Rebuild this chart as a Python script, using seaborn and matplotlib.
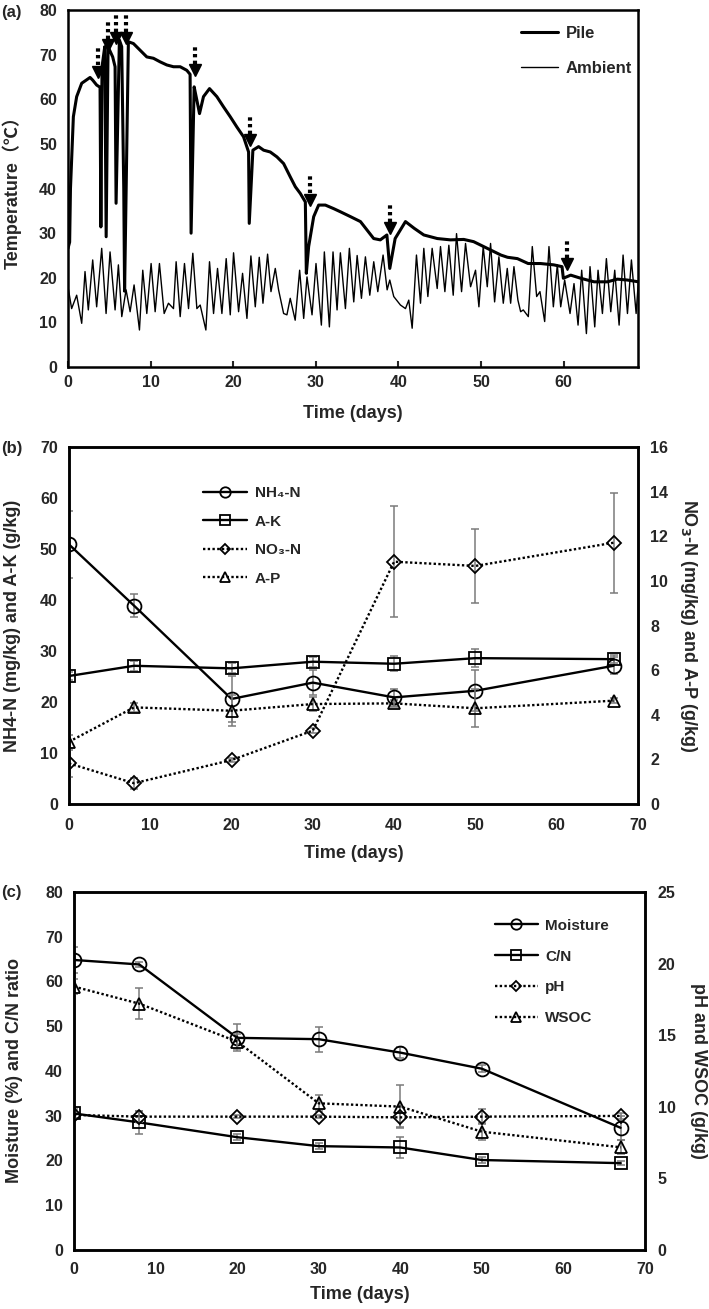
import numpy as np
import pandas as pd
import seaborn as sns
import matplotlib
matplotlib.use('Agg')
import matplotlib.pyplot as plt

# Panel (a): pile and ambient temperature
pile_day = [0.0, 0.2, 0.3, 0.65, 1.05, 1.66, 2.67, 2.99, 3.47, 3.88, 3.98, 4.12, 4.45, 4.62, 4.85,
            5.41, 5.70, 5.82, 6.22, 6.5, 6.75, 6.85, 7.0, 7.31, 7.92, 8.73, 9.54, 10.34, 11.15,
            11.96, 12.77, 13.58, 14.38, 14.78, 14.9, 15.27, 15.6, 15.92, 16.4, 17.13, 18.02,
            18.83, 19.64, 20.44, 21.25, 21.86, 21.94, 22.38, 23.07, 23.68, 24.48, 25.29, 26.1,
            26.91, 27.52, 28.12, 28.73, 28.85, 29.13, 29.74, 30.34, 31.15, 32.16, 32.97, 34.2,
            35.4, 36.2, 37.0, 37.8, 38.6, 38.95, 39.6, 40.85, 41.9, 43.07, 44.7, 46.3, 47.9,
            49.1, 50.75, 52.4, 53.2, 54.4, 55.7, 57.2, 58.8, 59.8, 59.96, 60.85, 62.06, 63.68,
            65.3, 66.5, 67.7, 69.05]
pile_temp = [26.6, 28.0, 40.0, 56.1, 60.6, 63.6, 64.9, 64.3, 63.2, 62.7, 31.4, 67.3, 71.8, 29.2, 71.8,
             69.5, 67.3, 36.7, 73.3, 71.8, 40.0, 17.0, 35.0, 72.9, 72.5, 71.0, 69.5, 69.2, 68.4,
             67.7, 67.3, 67.3, 66.5, 65.6, 30.0, 62.8, 59.8, 56.8, 60.6, 62.4, 60.6,
             58.3, 56.1, 53.8, 51.6, 48.2, 32.2, 48.6, 49.4, 48.6, 48.2, 47.1, 45.6,
             42.6, 40.4, 38.9, 37.0, 21.0, 27.0, 33.7, 36.3, 36.3, 35.5, 34.8, 33.7,
             32.6, 30.7, 28.8, 28.5, 29.6, 22.1, 28.8, 32.6, 31.1, 29.6, 28.8, 28.5, 28.6,
             28.1, 26.6, 25.1, 24.6, 24.3, 23.2, 23.2, 22.9, 22.5, 19.9, 20.6, 19.9, 19.1,
             19.1, 19.7, 19.5, 19.1]

amb_day = [0.0, 0.44, 1.05, 1.66, 2.06, 2.46, 2.99, 3.47, 4.08, 4.61, 5.09, 5.70, 6.10, 6.51, 7.03,
           7.52, 8.00, 8.65, 9.05, 9.54, 10.06, 10.55, 11.07, 11.64, 12.16, 12.77, 13.09, 13.58,
           14.10, 14.59, 15.11, 15.60, 16.0, 16.69, 17.13, 17.62, 18.10, 18.63, 19.15, 19.64,
           20.04, 20.65, 21.13, 21.66, 22.14, 22.67, 23.15, 23.60, 24.16, 24.57, 25.09, 25.49,
           26.1, 26.5, 26.9, 27.5, 28.04, 28.53, 28.93, 29.54, 30.02, 30.67, 31.03, 31.64, 32.08,
           32.57, 32.97, 33.58, 34.06, 34.59, 35.0, 35.52, 36.0, 36.53, 37.01, 37.5, 38.14,
           38.63, 38.95, 39.43, 40.24, 40.85, 41.25, 41.66, 42.18, 42.67, 43.07, 43.56, 44.08,
           44.69, 45.09, 45.62, 46.1, 46.63, 47.03, 47.64, 48.12, 48.73, 49.33, 49.74, 50.26,
           50.75, 51.15, 51.64, 52.16, 52.69, 53.17, 53.58, 53.98, 54.46, 54.79, 55.11, 55.72,
           56.2, 56.73, 57.13, 57.7, 58.22, 58.75, 59.23, 59.64, 60.12, 60.77, 61.25, 61.74,
           62.18, 62.75, 63.19, 63.76, 64.16, 64.69, 65.17, 65.7, 66.18, 66.71, 67.19, 67.72,
           68.2, 68.77, 69.05]
amb_temp = [18.0, 13.1, 16.1, 9.8, 21.4, 12.8, 24.0, 13.5, 26.6, 12.0, 25.8, 12.8, 22.9, 11.3, 17.3,
            12.4, 18.4, 8.3, 21.7, 12.0, 23.2, 12.4, 23.2, 12.0, 14.3, 13.1, 23.6, 11.3,
            23.2, 13.1, 25.5, 13.1, 13.9, 8.3, 23.6, 12.0, 22.1, 12.0, 24.3, 11.7,
            25.6, 12.4, 21.0, 10.9, 24.9, 13.5, 24.6, 14.3, 25.3, 16.9, 22.1, 17.3,
            12.0, 11.7, 15.4, 10.5, 21.7, 10.9, 20.2, 11.7, 23.2, 9.4, 25.8, 9.0, 25.8,
            12.8, 25.6, 13.1, 26.6, 14.6, 25.0, 15.4, 24.7, 16.1, 23.6, 16.9, 25.1,
            17.3, 19.5, 15.8, 13.9, 13.1, 15.0, 8.7, 25.1, 14.3, 26.6, 15.8, 26.6,
            17.6, 27.0, 16.9, 27.3, 16.1, 29.9, 16.9, 27.7, 18.0, 21.7, 13.5, 27.0,
            18.0, 27.7, 14.6, 24.7, 14.3, 22.1, 14.3, 22.5, 15.0, 12.4, 12.8, 11.3,
            27.0, 15.8, 16.9, 10.2, 27.0, 13.5, 22.9, 13.5, 19.5, 12.0, 18.7, 9.4,
            21.7, 7.5, 22.5, 9.0, 21.7, 12.0, 24.3, 12.4, 21.7, 9.4, 25.1, 12.0,
            24.0, 12.0, 19.5]

# turning events (dotted arrows): day and temperature at the arrow tip
turn_day = [3.68, 4.89, 5.82, 7.03, 15.4, 22.06, 29.33, 39.0, 60.36]
turn_tip = [65.0, 71.0, 72.5, 72.5, 65.4, 49.7, 36.3, 29.9, 21.9]

# Panels (b) and (c): sampling days
days = [0, 8, 20, 30, 40, 50, 67]

nh4 = [50.9, 38.9, 20.6, 23.8, 20.9, 22.2, 27.1]
nh4_err = [6.5, 2.3, 4.5, 2.5, 1.6, 4.0, 1.7]
ak = [25.1, 27.1, 26.6, 27.9, 27.5, 28.6, 28.4]
ak_err = [0.8, 1.0, 1.0, 1.0, 1.5, 1.8, 0.8]
no3 = [1.82, 0.93, 1.97, 3.29, 10.86, 10.67, 11.71]
no3_err = [0.6, 0.25, 0.1, 0.1, 2.5, 1.65, 2.25]
ap = [2.79, 4.33, 4.18, 4.48, 4.51, 4.29, 4.63]
ap_err = [0.3, 0.2, 0.7, 0.3, 0.15, 0.85, 0.1]

moist = [64.8, 63.8, 47.4, 47.1, 44.1, 40.5, 27.3]
moist_err = [3.0, 0.5, 3.0, 2.8, 1.2, 0.8, 2.7]
cn = [30.5, 28.5, 25.2, 23.2, 22.9, 20.1, 19.4]
cn_err = [1.0, 2.6, 0.7, 0.6, 2.4, 0.6, 0.5]
ph = [9.43, 9.31, 9.31, 9.31, 9.26, 9.31, 9.36]
ph_err = [0.2, 0.4, 0.1, 0.1, 0.7, 0.5, 0.2]
wsoc = [18.39, 17.2, 14.55, 10.24, 10.01, 8.26, 7.17]
wsoc_err = [0.5, 1.1, 0.5, 0.55, 1.5, 0.6, 0.5]

# Style
sns.set_style('ticks')
plt.rcParams['font.family'] = ['Liberation Sans', 'Noto Sans CJK SC', 'DejaVu Sans']
plt.rcParams['font.weight'] = 'bold'
plt.rcParams['axes.labelweight'] = 'bold'
plt.rcParams['axes.linewidth'] = 1.8
plt.rcParams['axes.edgecolor'] = 'black'

TICK_FS = 11.5
LABEL_FS = 13
DOT = (0, (1, 1))
GREY = '#7a7a7a'

fig = plt.figure(figsize=(7.09, 13.09), dpi=100)


def style_axis(ax):
    for s in ax.spines.values():
        s.set_linewidth(1.8)
        s.set_color('black')
    for lab in ax.get_xticklabels() + ax.get_yticklabels():
        lab.set_fontweight('bold')
        lab.set_fontsize(TICK_FS)


def series(ax, y, err, marker, ls, label, ms):
    sns.lineplot(x=days, y=y, ax=ax, color='black', lw=1.7, linestyle=ls, marker=marker,
                 markersize=ms, markerfacecolor='none', markeredgecolor='black',
                 markeredgewidth=1.3, label=label, legend=False, estimator=None, sort=False)
    ax.errorbar(days, y, yerr=err, fmt='none', ecolor=GREY, elinewidth=1.1, capsize=3.2,
                capthick=1.1, zorder=1)


# ---------------- (a) temperature ----------------
ax = fig.add_axes([0.0959, 0.7196, 0.804, 0.2727])
sns.lineplot(x=pile_day, y=pile_temp, ax=ax, color='black', lw=2.2, label='Pile',
             legend=False, estimator=None, sort=False)
sns.lineplot(x=amb_day, y=amb_temp, ax=ax, color='black', lw=1.0, label='Ambient',
             legend=False, estimator=None, sort=False)
tip = np.array(turn_tip)
for d, t in zip(turn_day, tip):
    ax.plot([d, d], [t + 2.6, t + 6.8], color='black', lw=3.0, linestyle=(0, (0.8, 0.8)),
            solid_capstyle='butt', dash_capstyle='butt')
ax.plot(turn_day, tip + 1.2, linestyle='none', marker='v', markersize=8, color='black')
ax.set_xlim(0, 69)
ax.set_ylim(0, 80)
ax.set_xticks(range(0, 70, 10))
ax.set_yticks(range(0, 90, 10))
ax.tick_params(axis='x', direction='in', length=4, width=1.5, pad=6)
ax.tick_params(axis='y', length=0, pad=8)
ax.set_xlabel('Time (days)', fontsize=LABEL_FS)
ax.set_ylabel('Temperature（℃）', fontsize=LABEL_FS)
ax.xaxis.set_label_coords(0.5, -0.105)
ax.yaxis.set_label_coords(-0.082, 0.5)
h, l = ax.get_legend_handles_labels()
ax.legend(h, l, loc='upper right', bbox_to_anchor=(0.99, 0.955), frameon=False,
          handlelength=2.2, handletextpad=0.5, labelspacing=1.2,
          borderpad=0, borderaxespad=0, prop={'weight': 'bold', 'size': 12})
style_axis(ax)

# ---------------- (b) nutrients ----------------
axb = fig.add_axes([0.0973, 0.3858, 0.8025, 0.2727])
axb2 = axb.twinx()
series(axb, nh4, nh4_err, 'o', '-', 'NH₄-N', 10)
series(axb, ak, ak_err, 's', '-', 'A-K', 9)
series(axb2, no3, no3_err, 'D', DOT, 'NO₃-N', 7)
series(axb2, ap, ap_err, '^', DOT, 'A-P', 9)
axb.set_xlim(0, 70)
axb.set_ylim(0, 70)
axb2.set_ylim(0, 16)
axb.set_xticks(range(0, 80, 10))
axb.set_yticks(range(0, 80, 10))
axb2.set_yticks(range(0, 18, 2))
axb.tick_params(axis='y', length=0, pad=8)
axb.tick_params(axis='x', length=0, pad=10)
axb2.tick_params(length=0, pad=9)
axb.set_xlabel('Time (days)', fontsize=LABEL_FS)
axb.set_ylabel('NH4-N (mg/kg) and A-K (g/kg)', fontsize=LABEL_FS)
axb2.set_ylabel('NO$_3$-N (mg/kg) and A-P (g/kg)', fontsize=LABEL_FS, rotation=270)
axb.xaxis.set_label_coords(0.5, -0.116)
axb.yaxis.set_label_coords(-0.084, 0.5)
axb2.yaxis.set_label_coords(1.108, 0.5)
h1, l1 = axb.get_legend_handles_labels()
h2, l2 = axb2.get_legend_handles_labels()
axb2.legend(h1 + h2, l1 + l2, loc='upper left', bbox_to_anchor=(0.235, 0.89),
            frameon=False, handlelength=2.9, handletextpad=0.5, labelspacing=0.95,
            borderpad=0, borderaxespad=0, markerscale=0.75, prop={'weight': 'bold', 'size': 11})
style_axis(axb)
style_axis(axb2)

# ---------------- (c) moisture, C/N, pH, WSOC ----------------
axc = fig.add_axes([0.1044, 0.0451, 0.8054, 0.2735])
axc2 = axc.twinx()
series(axc, moist, moist_err, 'o', '-', 'Moisture', 10)
series(axc, cn, cn_err, 's', '-', 'C/N', 9)
series(axc2, ph, ph_err, 'D', DOT, 'pH', 7)
series(axc2, wsoc, wsoc_err, '^', DOT, 'WSOC', 9)
axc.set_xlim(0, 70)
axc.set_ylim(0, 80)
axc2.set_ylim(0, 25)
axc.set_xticks(range(0, 80, 10))
axc.set_yticks(range(0, 90, 10))
axc2.set_yticks(range(0, 30, 5))
axc.tick_params(axis='y', length=0, pad=8)
axc.tick_params(axis='x', length=0, pad=9)
axc2.tick_params(length=0, pad=9)
axc.set_xlabel('Time (days)', fontsize=LABEL_FS)
axc.set_ylabel('Moisture (%) and C/N ratio', fontsize=LABEL_FS)
axc2.set_ylabel('pH and WSOC (g/kg)', fontsize=LABEL_FS, rotation=270)
axc.xaxis.set_label_coords(0.5, -0.1)
axc.yaxis.set_label_coords(-0.089, 0.5)
axc2.yaxis.set_label_coords(1.108, 0.5)
h1, l1 = axc.get_legend_handles_labels()
h2, l2 = axc2.get_legend_handles_labels()
axc2.legend(h1 + h2, l1 + l2, loc='upper left', bbox_to_anchor=(0.737, 0.925),
            frameon=False, handlelength=2.8, handletextpad=0.5, labelspacing=1.1,
            borderpad=0, borderaxespad=0, markerscale=0.75, prop={'weight': 'bold', 'size': 11})
style_axis(axc)
style_axis(axc2)

# panel letters
for letter, yy in [('(a)', 1 - 12 / 1309), ('(b)', 1 - 448 / 1309), ('(c)', 1 - 893 / 1309)]:
    fig.text(0.002, yy, letter, fontsize=12, fontweight='bold', va='center', ha='left')

fig.savefig('out.png', dpi=100)
